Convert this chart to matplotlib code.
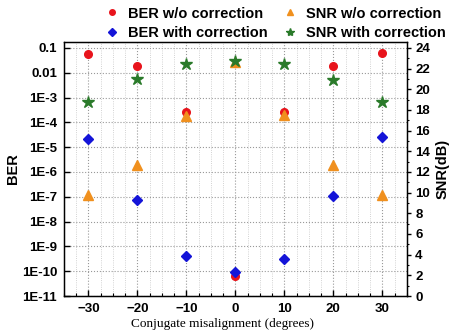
import matplotlib
matplotlib.use("Agg")
import matplotlib.pyplot as plt
from matplotlib.ticker import FixedLocator, FixedFormatter, MultipleLocator, LogLocator, NullFormatter
from matplotlib.lines import Line2D

angles = [-30, -20, -10, 0, 10, 20, 30]
ber_wo = [0.057, 0.019, 2.7e-4, 6.4e-11, 2.5e-4, 0.019, 0.062]
ber_with = [2.1e-5, 7.4e-8, 4.1e-10, 9.3e-11, 3.1e-10, 1.07e-7, 2.6e-5]
snr_wo = [9.8, 12.7, 17.4, 22.6, 17.5, 12.7, 9.8]
snr_with = [18.8, 21.0, 22.4, 22.7, 22.4, 20.9, 18.8]

ber_tick_vals = [1e-1, 1e-2, 1e-3, 1e-4, 1e-5, 1e-6, 1e-7, 1e-8, 1e-9, 1e-10, 1e-11]
ber_tick_labels = ["0.1", "0.01", "1E-3", "1E-4", "1E-5", "1E-6", "1E-7", "1E-8", "1E-9", "1E-10", "1E-11"]
snr_ticks = [0, 2, 4, 6, 8, 10, 12, 14, 16, 18, 20, 22, 24]
x_ticks = [-30, -20, -10, 0, 10, 20, 30]

c_red = "#e8141c"
c_blue = "#1414d8"
c_orange = "#f0901e"
c_green = "#2a7a2a"

sans = "Liberation Sans"
serif = "Liberation Serif"

fig = plt.figure(figsize=(4.52, 3.30), dpi=100)
ax = fig.add_axes([0.1416, 0.103, 0.7584, 0.770])
ax2 = ax.twinx()

ax.set_yscale("log")
ax.set_ylim(1e-11, 10 ** (-0.758))
ax.set_xlim(-35, 35)
ax2.set_ylim(0, 24.58)

# grid
ax.yaxis.set_minor_locator(LogLocator(base=10, subs=(2, 4, 6, 8)))
ax.yaxis.set_minor_formatter(NullFormatter())
ax.xaxis.set_major_locator(FixedLocator(x_ticks))
ax.xaxis.set_minor_locator(MultipleLocator(2.5))
ax.grid(True, which="major", linestyle=":", color="#999999", linewidth=0.8)
ax.grid(True, which="minor", linestyle=":", color="#c4c4c4", linewidth=0.6)

ax.plot(angles, ber_wo, linestyle="none", marker="o", color=c_red, markersize=5.5, zorder=5)
ax.plot(angles, ber_with, linestyle="none", marker="D", color=c_blue, markersize=5, zorder=5)
ax2.plot(angles, snr_wo, linestyle="none", marker="^", color=c_orange, markersize=7, zorder=5)
ax2.plot(angles, snr_with, linestyle="none", marker="*", color=c_green, markersize=9, zorder=6)

ax.yaxis.set_major_locator(FixedLocator(ber_tick_vals))
ax.yaxis.set_major_formatter(FixedFormatter(ber_tick_labels))
ax2.yaxis.set_major_locator(FixedLocator(snr_ticks))
ax2.yaxis.set_minor_locator(MultipleLocator(1))

for lab in ax.get_yticklabels() + ax2.get_yticklabels() + ax.get_xticklabels():
    lab.set_fontfamily(sans)
    lab.set_fontweight("bold")
    lab.set_fontsize(9.5)

ax.tick_params(axis="both", which="major", direction="in", length=4, width=1)
ax.tick_params(axis="both", which="minor", direction="in", length=2, width=0.8)
ax.tick_params(axis="x", which="major", pad=5)
ax.tick_params(axis="y", which="major", pad=5)
ax2.tick_params(axis="y", which="major", direction="out", length=3, width=1, pad=3)
ax2.tick_params(axis="y", which="minor", direction="out", length=1.5, width=0.8)

for sp in ax.spines.values():
    sp.set_linewidth(1.0)

ax.set_ylabel("BER", fontfamily=sans, fontweight="bold", fontsize=10.5, labelpad=1)
ax2.set_ylabel("SNR(dB)", fontfamily=sans, fontweight="bold", fontsize=10.5, labelpad=4)
ax.set_xlabel("Conjugate misalignment (degrees)", fontfamily=serif, fontsize=9.5)
ax.xaxis.set_label_coords(0.462, -0.085)

handles = [
    Line2D([], [], linestyle="none", marker="o", color=c_red, markersize=4),
    Line2D([], [], linestyle="none", marker="D", color=c_blue, markersize=4),
    Line2D([], [], linestyle="none", marker="^", color=c_orange, markersize=5),
    Line2D([], [], linestyle="none", marker="*", color=c_green, markersize=6),
]
labels = ["BER w/o correction", "BER with correction", "SNR w/o correction", "SNR with correction"]
fig.legend(handles, labels, ncol=2, loc="upper left", bbox_to_anchor=(0.203, 1.02),
           frameon=False, prop={"family": sans, "weight": "bold", "size": 10.5},
           handlelength=1.0, handletextpad=0.6, columnspacing=1.05, labelspacing=0.35)

fig.savefig("out.png", dpi=100)
